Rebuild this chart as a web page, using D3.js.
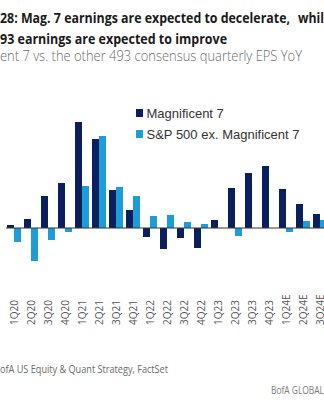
<!DOCTYPE html>
<html>
<head>
<meta charset="utf-8">
<script src="https://cdn.jsdelivr.net/npm/d3@7"></script>
<style>
  body { margin: 0; background: #fff; }
  svg { display: block; }
</style>
</head>
<body>
<script>
const width = 324;
const height = 400;

// quarterly EPS growth YoY (%)
const categories = ['1Q20', '2Q20', '3Q20', '4Q20', '1Q21', '2Q21', '3Q21', '4Q21',
    '1Q22', '2Q22', '3Q22', '4Q22', '1Q23', '2Q23', '3Q23', '4Q23', '1Q24E', '2Q24E', '3Q24E'];
const mag7 = [3, 9, 32, 45, 106, 89, 38, 18, -9, -21, -10, -20, 8, 40, 55, 62, 39, 24, 14];
const exMag7 = [-14, -33, -12, -4, 42, 92, 41, 32, 12, 13, 6, 4, 0, -8, 0, 0, -4, 7, 8];
const seriesNames = ['Magnificent 7', 'S&P 500 ex. Magnificent 7'];
const colors = ['#0b1f5e', '#1c9dd8'];

const svg = d3.select('body')
    .append('svg')
    .attr('width', width)
    .attr('height', height);

// squeeze a text so that the visible part has the width of the picture
function fitText(full, visible, x, y, target, anchor, style) {
    let t = svg.append('text')
        .attr('x', x)
        .attr('y', y)
        .attr('text-anchor', anchor)
        .style('font-family', style.family)
        .style('font-size', style.size + 'px')
        .style('font-weight', style.weight || 400)
        .attr('fill', style.color)
        .text(visible);
    let w1 = t.node().getComputedTextLength();
    t.text(full);
    let w2 = t.node().getComputedTextLength();
    t.attr('textLength', w2 * target / w1)
        .attr('lengthAdjust', 'spacingAndGlyphs');
    return t;
}

const titleStyle = {family: '"Open Sans"', size: 14, weight: 700, color: '#1a1a1a'};
fitText('Exhibit 28: Mag. 7 earnings are expected to decelerate,',
    '28: Mag. 7 earnings are expected to decelerate,', 290, 23, 290, 'end', titleStyle);
fitText('while S&P', 'whil', 298, 23, 26, 'start', titleStyle);
fitText('493 earnings are expected to improve',
    '93 earnings are expected to improve', 227, 44, 227, 'end', titleStyle);
fitText('Magnificent 7 vs. the other 493 consensus quarterly EPS YoY',
    'ent 7 vs. the other 493 consensus quarterly EPS YoY', 302, 61, 302, 'end',
    {family: '"Open Sans"', size: 14, weight: 300, color: '#6a6a6a'});
fitText('Source: BofA US Equity & Quant Strategy, FactSet',
    'ofA US Equity & Quant Strategy, FactSet', 168, 373, 168, 'end',
    {family: '"Open Sans"', size: 10.5, color: '#6a6a6a'});
fitText('BofA GLOBAL RESEARCH', 'BofA GLOBAL', 271, 394, 53, 'start',
    {family: '"Open Sans"', size: 10, color: '#7a7a7a'});

// scales
let x0 = d3.scaleBand()
    .domain(categories)
    .range([7, 7 + 17 * categories.length - 3])
    .paddingInner(3 / 17)
    .paddingOuter(0);

let x1 = d3.scaleBand()
    .domain([0, 1])
    .range([0, x0.bandwidth()]);

let y = d3.scaleLinear()
    .domain([-40, 110])
    .range([268, 118]);

let rows = categories.map((c, i) => ({cat: c, values: [mag7[i], exMag7[i]]}));

let g = svg.append('g');

g.selectAll('g.group')
    .data(rows)
    .enter()
    .append('g')
    .attr('class', 'group')
    .attr('transform', d => 'translate(' + x0(d.cat) + ',0)')
    .selectAll('rect')
    .data(d => d.values.map((v, k) => ({k: k, v: v})))
    .enter()
    .append('rect')
    .attr('x', d => x1(d.k))
    .attr('width', x1.bandwidth())
    .attr('y', d => y(Math.max(0, d.v)))
    .attr('height', d => Math.abs(y(d.v) - y(0)))
    .attr('fill', d => colors[d.k]);

// zero line
g.append('line')
    .attr('x1', x0.range()[0] - 1)
    .attr('x2', width)
    .attr('y1', y(0))
    .attr('y2', y(0))
    .attr('stroke', '#333')
    .attr('stroke-width', 1.2);

// category labels, rotated
let axis = svg.append('g')
    .attr('transform', 'translate(0,325)')
    .call(d3.axisBottom(x0).tickSize(0));
axis.select('.domain').remove();
axis.selectAll('text')
    .attr('transform', 'rotate(-90)')
    .attr('x', 0)
    .attr('y', 0)
    .attr('dy', '0.35em')
    .attr('text-anchor', 'start')
    .style('font-family', '"Open Sans"')
    .style('font-size', '10px')
    .attr('fill', '#555');

// legend
let legend = svg.append('g')
    .selectAll('g')
    .data(seriesNames)
    .enter()
    .append('g')
    .attr('transform', (d, i) => 'translate(136,' + (109 + i * 21) + ')');

legend.append('rect')
    .attr('width', 7)
    .attr('height', 8)
    .attr('fill', (d, i) => colors[i]);

legend.append('text')
    .attr('x', 10.5)
    .attr('y', 9.3)
    .style('font-family', '"Liberation Sans", Arial, sans-serif')
    .style('font-size', '13px')
    .attr('fill', '#333')
    .text(d => d);
</script>
</body>
</html>
